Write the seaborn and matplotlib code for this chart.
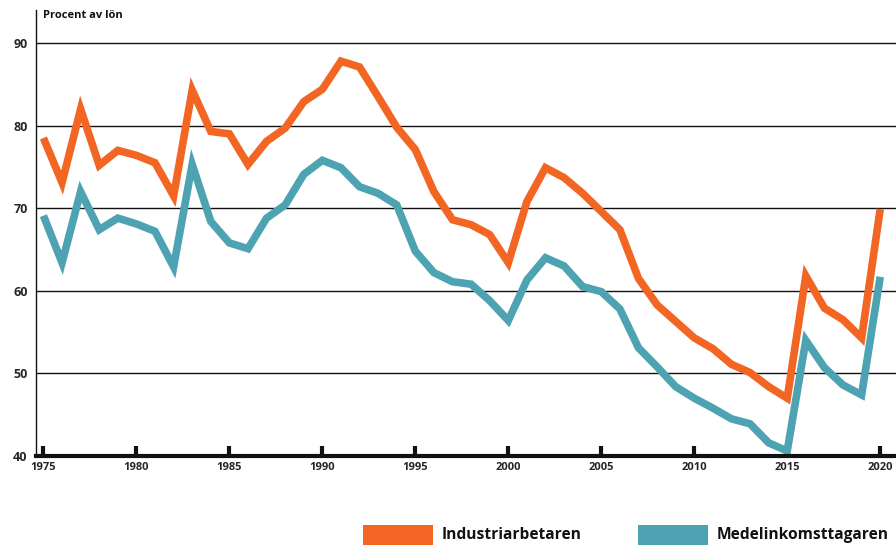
import numpy as np
import pandas as pd
import matplotlib
matplotlib.use("Agg")
import matplotlib.pyplot as plt
from matplotlib.patches import Rectangle
import seaborn as sns

years = list(range(1975, 2021))
industri = [78.5, 73.1, 82.0, 75.2, 77.0, 76.4, 75.5, 71.5, 84.3, 79.3,
            79.0, 75.3, 78.1, 79.7, 82.9, 84.4, 87.8, 87.1, 83.5, 79.8,
            77.1, 72.0, 68.6, 68.0, 66.8, 63.4, 70.8, 74.9, 73.7, 71.8,
            69.6, 67.4, 61.5, 58.3, 56.3, 54.3, 53.0, 51.1, 50.1, 48.4,
            47.0, 61.8, 57.9, 56.5, 54.3, 69.9]
medel = [69.1, 63.4, 72.0, 67.4, 68.8, 68.1, 67.2, 62.9, 75.3, 68.4,
         65.8, 65.1, 68.8, 70.4, 74.1, 75.8, 74.9, 72.6, 71.8, 70.4,
         64.8, 62.2, 61.1, 60.8, 58.8, 56.4, 61.3, 64.0, 63.0, 60.5,
         59.9, 57.8, 53.1, 50.8, 48.4, 47.0, 45.8, 44.5, 43.9, 41.6,
         40.6, 54.0, 50.7, 48.6, 47.4, 61.7]
series_names = ["Industriarbetaren", "Medelinkomsttagaren"]
colors = ["#F26522", "#4DA3B1"]
yticks = [40, 50, 60, 70, 80, 90]
xticks = [1975, 1980, 1985, 1990, 1995, 2000, 2005, 2010, 2015, 2020]

df = pd.DataFrame({
    "year": years * 2,
    "value": industri + medel,
    "serie": [series_names[0]] * len(years) + [series_names[1]] * len(years),
})

sns.set_theme(style="white")
plt.rcParams["font.family"] = ["Open Sans", "DejaVu Sans"]

W, H = 896, 547
fig = plt.figure(figsize=(W / 100, H / 100), dpi=100)
ax = fig.add_axes([36 / W, 1 - 456 / H, 1 - 36 / W, (456 - 10) / H])

for y in yticks[1:]:
    ax.axhline(y, color="#111111", lw=1.0, zorder=1)

sns.lineplot(data=df, x="year", y="value", hue="serie", palette=colors,
             linewidth=5.5, ax=ax, legend=False, zorder=3,
             solid_joinstyle="miter", solid_capstyle="butt")

ax.set_xlim(1974.6, 2020.85)
ax.set_ylim(40, 94)
ax.set_xticks(xticks)
ax.set_xticklabels([str(x) for x in xticks], fontsize=8, fontweight="bold")
ax.set_yticks(yticks)
ax.set_yticklabels([str(y) for y in yticks], fontsize=9, fontweight="bold")
ax.set_xlabel("")
ax.set_ylabel("")

for s in ["top", "right"]:
    ax.spines[s].set_visible(False)
ax.spines["left"].set_color("#111111")
ax.spines["left"].set_linewidth(1.0)
ax.spines["bottom"].set_color("#111111")
ax.spines["bottom"].set_linewidth(3.0)
ax.spines["bottom"].set_zorder(4)

ax.tick_params(axis="x", direction="in", length=7, width=3, color="#111111",
               pad=4, bottom=True)
ax.tick_params(axis="y", length=0, pad=6)

fig.text(43 / W, 1 - 15 / H, "Procent av lön", fontsize=8, fontweight="bold",
         ha="left", va="center", color="#111111")

# legend: colour swatches with labels
legend_pos = [(363, 442), (638, 717)]
for (rx, tx), name, c in zip(legend_pos, series_names, colors):
    fig.add_artist(Rectangle((rx / W, 1 - 544.5 / H), 70 / W, 19.5 / H,
                             transform=fig.transFigure, facecolor=c,
                             edgecolor="none"))
    fig.text(tx / W, 1 - 535 / H, name, fontsize=11.2, fontweight="bold",
             ha="left", va="center", color="#111111")

fig.savefig("out.png", dpi=100)
